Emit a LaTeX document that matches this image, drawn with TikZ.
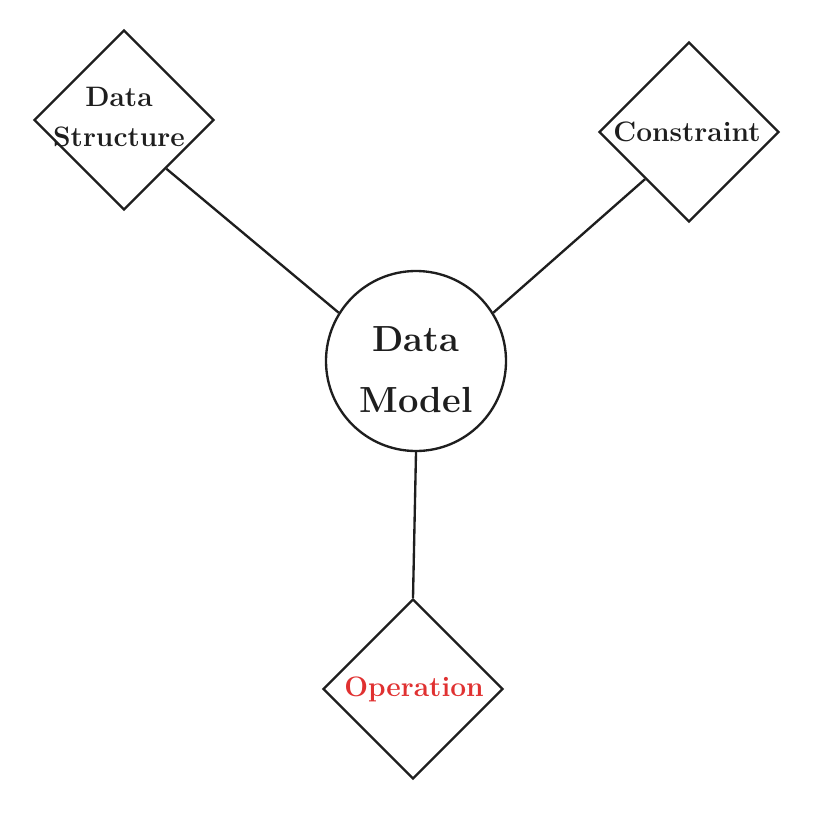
\documentclass[tikz,border=0pt]{standalone}
\usepackage{xcolor}
\usepackage{tikz}
\usetikzlibrary{shapes.geometric}
\definecolor{InkDark}{HTML}{1E1E1E}
\definecolor{InkRed}{HTML}{E03131}

\begin{document}
\begin{tikzpicture}[
    x=0.03cm, y=-0.03cm,
    entity/.style={diamond, aspect=1, minimum width=5.4cm, minimum height=5.4cm, inner sep=0pt, draw=InkDark, line width=2pt},
    core/.style={circle, minimum size=5.4cm, inner sep=0pt, draw=InkDark, line width=2pt},
    txt/.style={font=\fontsize{24}{34}\bfseries\selectfont, align=center, text=InkDark},
    bigtxt/.style={txt, font=\fontsize{31}{52}\bfseries\selectfont},
    link/.style={draw=InkDark, line width=2pt}
]
\useasboundingbox (0,0) rectangle (818,815);

% Centre
\node[core] (dm) at (416,361) {};
\node[bigtxt] (dmtxt) at (416,370) {Data\\Model};

% Outer entities
\node[entity] (ds) at (124,120) {};
\node[txt] (dstxt) at (119,117) {Data\\Structure};

\node[entity] (cs) at (689,132) {};
\node[txt] (cstxt) at (687,132) {Constraint};

\node[entity] (op) at (413,689) {};
\node[txt, text=InkRed] (optxt) at (414,689) {Operation};

% Links
\draw[link] (ds.-49) -- (dm.148);
\draw[link] (cs.227) -- (dm.32);
\draw[link] (dm.south) -- (op.north);
\end{tikzpicture}
\end{document}
